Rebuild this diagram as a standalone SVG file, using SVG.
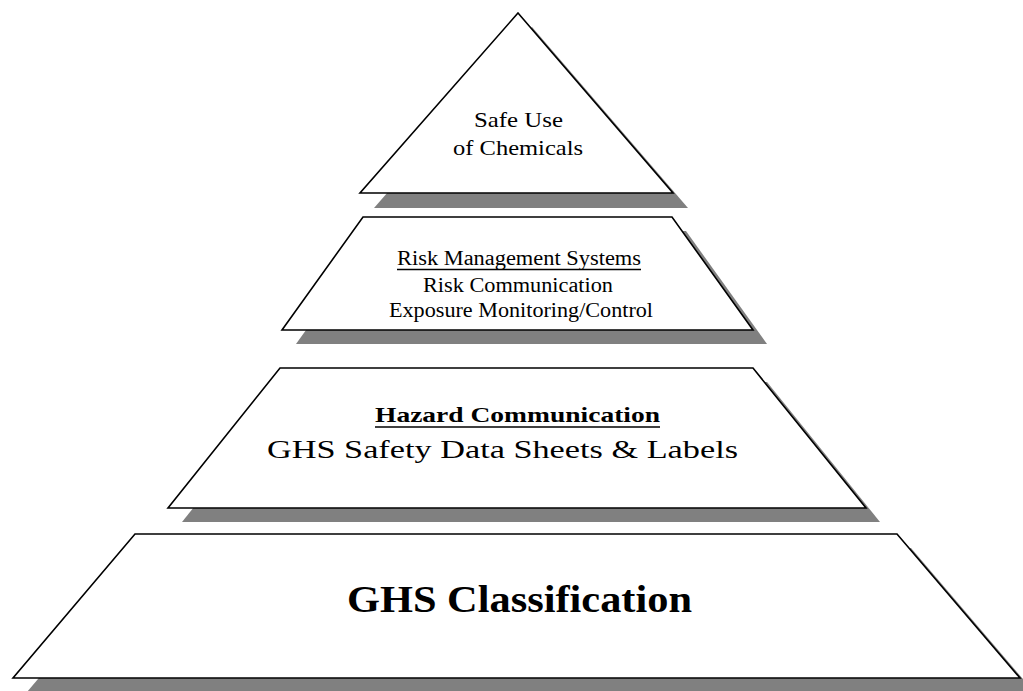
<svg xmlns="http://www.w3.org/2000/svg" width="1023" height="691" viewBox="0 0 1023 691">
  <style>
    .shape { fill: #ffffff; stroke: #000000; stroke-width: 1.6; stroke-linejoin: miter; }
    .shadow { fill: #808080; stroke: none; }
    .t { font-family: "Liberation Serif", "Times New Roman", serif; fill: #000000; text-anchor: middle; }
    .ul { stroke: #000000; stroke-width: 1.5; }
  </style>
  <rect width="1023" height="691" fill="#ffffff"/>

  <g id="connectors"></g>

  <g id="level-safe-use">
    <polygon class="shadow" points="532,27 688,208 374,208"/>
    <polygon class="shape" points="518,13 673,193 360,193"/>
    <text class="t" x="518.5" y="127" font-size="22" textLength="89" lengthAdjust="spacingAndGlyphs">Safe Use</text>
    <text class="t" x="518" y="155" font-size="22" textLength="130" lengthAdjust="spacingAndGlyphs">of Chemicals</text>
  </g>

  <g id="level-risk-management">
    <polygon class="shadow" points="377,231 686,231 767,344 296,344"/>
    <polygon class="shape" points="363,217 672,217 753,330 282,330"/>
    <text class="t" x="519" y="265" font-size="20" textLength="244" lengthAdjust="spacingAndGlyphs">Risk Management Systems</text>
    <line class="ul" x1="397" y1="269.5" x2="641" y2="269.5"/>
    <text class="t" x="518" y="292" font-size="20" textLength="190" lengthAdjust="spacingAndGlyphs">Risk Communication</text>
    <text class="t" x="521" y="317" font-size="20" textLength="264" lengthAdjust="spacingAndGlyphs">Exposure Monitoring/Control</text>
  </g>

  <g id="level-hazard-communication">
    <polygon class="shadow" points="294,382 767,382 880,522 182,522"/>
    <polygon class="shape" points="280,368 753,368 866,508 168,508"/>
    <text class="t" x="517.5" y="422" font-size="22" font-weight="bold" textLength="285" lengthAdjust="spacingAndGlyphs">Hazard Communication</text>
    <line class="ul" x1="375" y1="427" x2="660" y2="427" stroke-width="2"/>
    <text class="t" x="502.5" y="458" font-size="26" textLength="471" lengthAdjust="spacingAndGlyphs">GHS Safety Data Sheets &amp; Labels</text>
  </g>

  <g id="level-ghs-classification">
    <polygon class="shadow" points="149,548 911,548 1034,692 27,692"/>
    <polygon class="shape" points="135,534 897,534 1020,678 13,678"/>
    <text class="t" x="519.5" y="612" font-size="37" font-weight="bold" textLength="345" lengthAdjust="spacingAndGlyphs">GHS Classification</text>
  </g>
</svg>
